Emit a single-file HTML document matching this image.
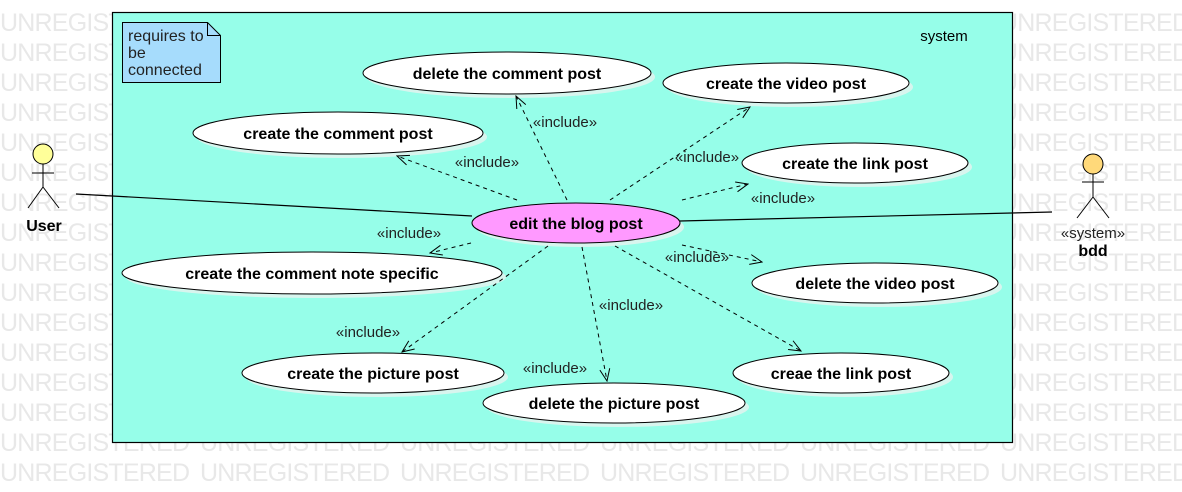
<!DOCTYPE html>
<html><head><meta charset="utf-8"><style>html,body{margin:0;padding:0;background:#fff}svg{display:block}</style></head>
<body>
<svg width="1182" height="492" xmlns="http://www.w3.org/2000/svg" font-family="Liberation Sans, sans-serif">
<defs>
<marker id="a" markerWidth="14" markerHeight="12" refX="13" refY="6" orient="auto" markerUnits="userSpaceOnUse">
<path d="M1,1 L13,6 L1,11" fill="none" stroke="#000" stroke-width="1"/>
</marker>
</defs>
<g id="wm" fill="#e8e8e8" font-size="25"></g>
<rect x="112.5" y="12.5" width="900" height="430" fill="#96fee9" stroke="#000" stroke-width="1.2"/>
<text x="944" y="41" font-size="15" text-anchor="middle">system</text>
<path d="M122.5,22.5 H207.5 L220.5,35.5 V82.5 H122.5 Z" fill="#a6dcfc" stroke="#000"/>
<path d="M207.5,22.5 V35.5 H220.5" fill="none" stroke="#000"/>
<text font-size="16" fill="#222"><tspan x="128" y="41">requires to</tspan><tspan x="128" y="58">be</tspan><tspan x="128" y="75">connected</tspan></text>

<g fill="#d8f5ee">
<ellipse cx="511" cy="77" rx="144" ry="21"/>
<ellipse cx="790" cy="87" rx="123" ry="20"/>
<ellipse cx="342" cy="137" rx="145" ry="21"/>
<ellipse cx="859" cy="167" rx="113" ry="20"/>
<ellipse cx="580" cy="227" rx="104" ry="20"/>
<ellipse cx="316" cy="277" rx="190" ry="21"/>
<ellipse cx="879" cy="287" rx="123" ry="20"/>
<ellipse cx="377" cy="377" rx="131" ry="20"/>
<ellipse cx="845" cy="377" rx="108" ry="20"/>
<ellipse cx="618" cy="407" rx="131" ry="20"/>
</g>
<g fill="#fff" stroke="#000" stroke-width="1">
<ellipse cx="507" cy="73" rx="144" ry="21"/>
<ellipse cx="786" cy="83" rx="123" ry="20"/>
<ellipse cx="338" cy="133" rx="145" ry="21"/>
<ellipse cx="855" cy="163" rx="113" ry="20"/>
<ellipse cx="576" cy="223" rx="104" ry="20" fill="#ff99ff"/>
<ellipse cx="312" cy="273" rx="190" ry="21"/>
<ellipse cx="875" cy="283" rx="123" ry="20"/>
<ellipse cx="373" cy="373" rx="131" ry="20"/>
<ellipse cx="841" cy="373" rx="108" ry="20"/>
<ellipse cx="614" cy="403" rx="131" ry="20"/>
</g>
<g font-size="16" font-weight="bold" text-anchor="middle">
<text x="507" y="79">delete the comment post</text>
<text x="786" y="89">create the video post</text>
<text x="338" y="139">create the comment post</text>
<text x="855" y="169">create the link post</text>
<text x="576" y="229">edit the blog post</text>
<text x="312" y="279">create the comment note specific</text>
<text x="875" y="289">delete the video post</text>
<text x="373" y="379">create the picture post</text>
<text x="841" y="379">creae the link post</text>
<text x="614" y="409">delete the picture post</text>
</g>

<g stroke="#000" stroke-width="1" stroke-dasharray="4,4" fill="none" marker-end="url(#a)">
<line x1="567" y1="200" x2="516" y2="96"/>
<line x1="517" y1="200" x2="397" y2="156"/>
<line x1="610" y1="200" x2="750" y2="107"/>
<line x1="682" y1="200" x2="748" y2="184"/>
<line x1="471" y1="243" x2="430" y2="253"/>
<line x1="682" y1="245" x2="762" y2="262"/>
<line x1="548" y1="246" x2="402" y2="352"/>
<line x1="582" y1="247" x2="607" y2="381"/>
<line x1="615" y1="246" x2="801" y2="351"/>
</g>
<g font-size="15" fill="#222" text-anchor="middle">
<text x="565" y="127">«include»</text>
<text x="487" y="167">«include»</text>
<text x="707" y="162">«include»</text>
<text x="783" y="203">«include»</text>
<text x="409" y="238">«include»</text>
<text x="697" y="262">«include»</text>
<text x="368" y="337">«include»</text>
<text x="631" y="310">«include»</text>
<text x="555" y="373">«include»</text>
</g>

<g stroke="#000" stroke-width="1.2">
<line x1="76" y1="194" x2="472" y2="216"/>
<line x1="680" y1="221" x2="1052" y2="212"/>
</g>
<g stroke="#000" stroke-width="1" fill="none">
<circle cx="43" cy="154" r="10" fill="#ffff99"/>
<line x1="43" y1="164" x2="43" y2="187"/>
<line x1="32" y1="173" x2="54" y2="173"/>
<line x1="43" y1="187" x2="28" y2="208"/>
<line x1="43" y1="187" x2="59" y2="208"/>
<circle cx="1093" cy="164" r="10" fill="#ffd97a"/>
<line x1="1093" y1="174" x2="1093" y2="197"/>
<line x1="1082" y1="182" x2="1104" y2="182"/>
<line x1="1093" y1="197" x2="1077" y2="218"/>
<line x1="1093" y1="197" x2="1109" y2="218"/>
</g>
<text x="44" y="231" font-size="16" font-weight="bold" text-anchor="middle">User</text>
<text x="1093" y="238" font-size="15" fill="#222" text-anchor="middle">«system»</text>
<text x="1093" y="256" font-size="16" font-weight="bold" text-anchor="middle">bdd</text>
</svg>
<script>
(function(){
var ns="http://www.w3.org/2000/svg",g=document.getElementById('wm');
for(var r=0;r<16;r++){for(var c=0;c<6;c++){var t=document.createElementNS(ns,'text');t.setAttribute('x',c*200);t.setAttribute('y',31+r*30);t.setAttribute('textLength','190');t.textContent='UNREGISTERED';g.appendChild(t);}}
})();
</script>
</body></html>
